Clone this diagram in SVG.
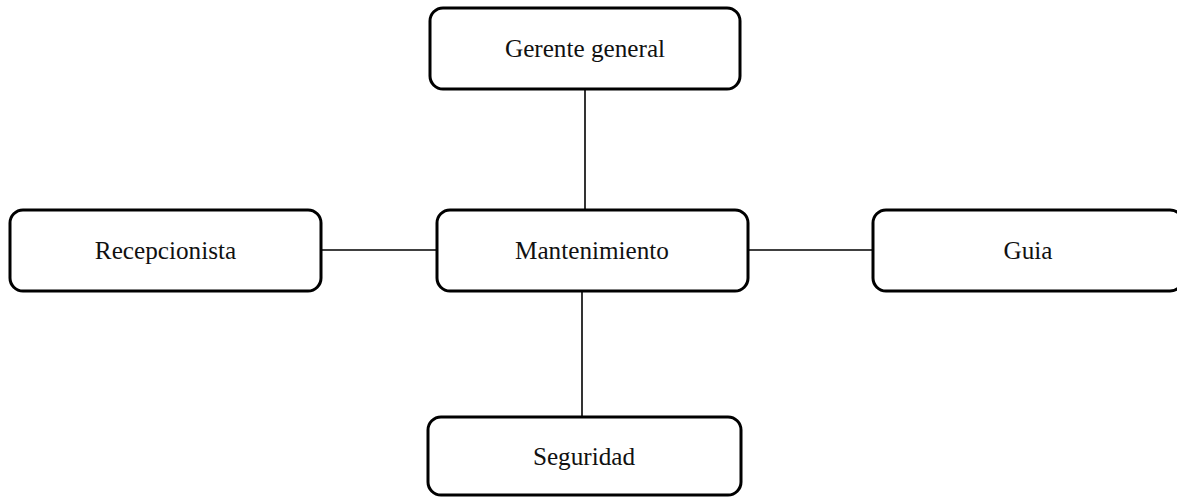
<svg xmlns="http://www.w3.org/2000/svg" width="1177" height="497" viewBox="0 0 1177 497">
<style>
.box{fill:#fff;stroke:#000;stroke-width:3}
.lbl{font-family:"Liberation Serif","Times New Roman",serif;font-size:25.2px;fill:#111;text-anchor:middle}
.conn{stroke:#000;stroke-width:1.6;fill:none}
</style>
<rect width="1177" height="497" fill="#fff"/>
<g id="connectors">
<line class="conn" x1="585" y1="89" x2="585" y2="210"/>
<line class="conn" x1="321" y1="250" x2="437" y2="250"/>
<line class="conn" x1="748" y1="250" x2="873" y2="250"/>
<line class="conn" x1="582" y1="291" x2="582" y2="417"/>
</g>
<g id="gerente">
<rect class="box" x="430" y="8" width="310" height="81" rx="13"/>
<text class="lbl" x="585" y="57">Gerente general</text>
</g>
<g id="recepcionista">
<rect class="box" x="10" y="210" width="311" height="81" rx="13"/>
<text class="lbl" x="165.5" y="259">Recepcionista</text>
</g>
<g id="mantenimiento">
<rect class="box" x="437" y="210" width="311" height="81" rx="13"/>
<text class="lbl" x="592" y="259">Mantenimiento</text>
</g>
<g id="guia">
<rect class="box" x="873" y="210" width="310" height="81" rx="13"/>
<text class="lbl" x="1028" y="259">Guia</text>
</g>
<g id="seguridad">
<rect class="box" x="428" y="417" width="313" height="78" rx="13"/>
<text class="lbl" x="584" y="465">Seguridad</text>
</g>
</svg>
